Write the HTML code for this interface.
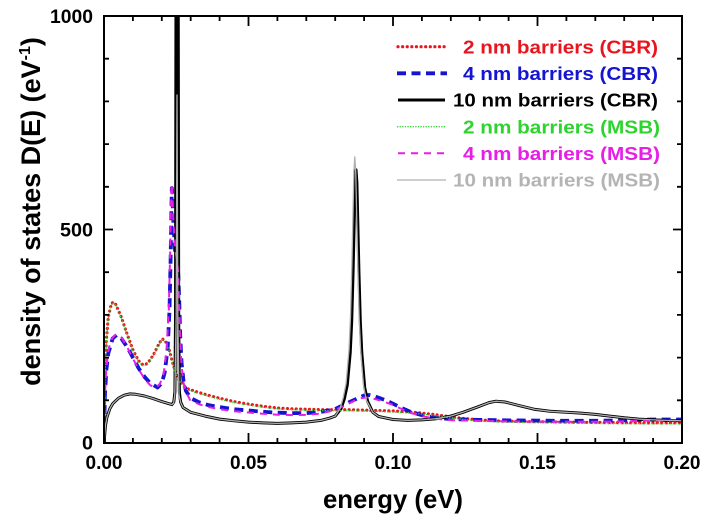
<!DOCTYPE html>
<html><head><meta charset="utf-8"><style>
html,body{margin:0;padding:0;background:#fff;}
svg{display:block;}
text{font-family:"Liberation Sans",Arial,sans-serif;font-weight:bold;}
</style></head><body>
<svg width="704" height="519" viewBox="0 0 704 519" xmlns="http://www.w3.org/2000/svg">
<defs><clipPath id="c"><rect x="104" y="16" width="578" height="427"/></clipPath></defs>
<rect width="704" height="519" fill="#fff"/>
<g clip-path="url(#c)" fill="none" stroke-linejoin="round">
<!-- red dotted CBR 2nm -->
<polyline stroke="#e8141e" stroke-width="3.2" stroke-linecap="round" stroke-dasharray="0.01 4.4" points="104,443 104.9,379 106.3,340.5 108.3,317 111.2,304.2 113.2,302.1 115.6,304.2 121.3,317 127.1,334.1 132.9,349.9 138.7,361 143,364.9 147.4,363.6 153.1,355.5 158.9,343.9 162.2,338.8 165.6,341.4 169,349.1 172.4,361.9 175.6,372.5 179.1,379.8 182.9,384.9 187.8,388.8 196.5,391.8 208,395.2 219.6,398.2 234.1,401.6 248.5,404.1 263,406.3 277.4,408 291.9,408.8 306.3,409.3 320.8,409.7 349.7,409.7 364.1,410.1 378.6,410.5 393,411 407.5,411.8 421.9,413.1 436.4,414.8 450.8,417 465.3,418.7 479.7,419.9 494.2,420.8 508.6,421.2 537.5,421.7 566.4,422.1 595.3,422.5 653.1,422.9 682,422.9"/>
<!-- blue dashed CBR 4nm -->
<polyline stroke="#1414d2" stroke-width="3.8" stroke-dasharray="9 5.5" points="104,443 104.9,396 106.3,370.4 108.3,353.3 112.7,338.4 116.7,335 121.3,338.4 127.1,346.9 132.9,357.6 138.7,368.3 144.5,376.8 150.2,383.2 157.5,387.5 161.8,383.2 164.7,372.5 167.6,349.1 169.5,310 170.6,260 171.3,215 171.8,188 172.5,195 173.5,225 175,250 177,262 178.3,275 179.2,300 180.2,335 181.5,362 183.5,381 186,391 190.7,398.2 199.4,402.4 208,405 219.6,407.1 234.1,409.3 248.5,410.5 263,411.8 277.4,412.7 291.9,413.1 306.3,413.1 320.8,412 335.2,409 349.7,402 358.3,398 364,395.5 369,395 375,396.5 385,400 393,403.7 401.7,408 410.3,411.8 421.9,415.2 436.4,417.8 450.8,419.1 465.3,419.5 479.7,419.9 508.6,420.4 566.4,420.8 595.3,420.8 624.2,420.4 653.1,419.5 682,419.5"/>
<!-- black CBR 10nm -->
<polyline stroke="#000" stroke-width="3" points="104,443 105.4,425.9 106.9,417.4 109.8,408.8 112.7,403.7 118.5,398.2 124.2,395.2 130,393.9 135.8,394.3 144.5,396 153.1,398.6 161.8,401.6 167.6,403.3 171.9,404.6 173.8,402 174.9,392 175.5,320 176,-27 178.2,-27 178.7,320 179.4,392 180.6,402 183,407.5 190.7,412.3 205.2,416.1 219.6,419.1 234.1,420.8 248.5,422.1 263,422.9 277.4,423.4 291.9,422.9 306.3,422.1 320.8,420.4 329.4,418.2 335.2,416.1 341,408.8 344.4,398.6 347.3,384.9 350.2,352.9 351.7,321.3 353.1,270.9 354.3,218 355.1,182.5 356,169.7 356.9,182.5 357.7,218 358.9,270.9 360.3,321.3 361.8,352.9 364.7,387.5 367.6,401.2 372.8,412.3 378.6,416.5 393,419.5 407.5,420.4 421.9,419.9 436.4,418.7 450.8,416.1 463,412.3 477,407.2 489,402.6 496,401.2 505,402 520,405.8 535,409.4 550,411.3 566.4,412.3 580.9,413.1 595.3,414.4 609.8,416.1 624.2,417.8 638.7,419.1 653.1,419.9 667.6,420.4 682,420.8"/>
<!-- green dotted MSB 2nm -->
<polyline stroke="#3ad23a" stroke-width="1.3" stroke-dasharray="1.3 1.3" points="104,443 104.9,380 106.3,341.5 108.3,318 111.2,305.2 113.2,303.1 115.6,305.2 121.3,318 127.1,335.1 132.9,350.9 138.7,362 143,365.9 147.4,364.6 153.1,356.5 158.9,344.9 162.2,339.8 165.6,342.4 169,350.1 172.4,362.9 175.6,373.5 179.1,380.8 182.9,385.9 187.8,389.8 196.5,392.8 208,396.2 219.6,399.2 234.1,402.6 248.5,405.1 263,407.3 277.4,409 291.9,409.8 306.3,410.3 320.8,410.7 349.7,410.7 364.1,411.1 378.6,411.5 393,412 407.5,412.8 421.9,414.1 436.4,415.8 450.8,418 465.3,419.7 479.7,420.9 494.2,421.8 508.6,422.2 537.5,422.7 566.4,423.1 595.3,423.5 653.1,423.9 682,423.9"/>
<!-- magenta dashed MSB 4nm -->
<polyline stroke="#e61ee6" stroke-width="2" stroke-dasharray="7 6" points="104,443 104.9,394 106.3,368.4 108.3,351.3 110.5,341 114,336 116.7,334 121.3,337.4 127.1,346.9 132.9,358.6 138.7,369.3 144.5,378.8 150.2,385.2 155.5,388 159.8,384.2 163.7,373.5 166.6,350.1 168.8,310 170.1,255 170.9,210 171.5,184 172.3,192 173.4,222 175,248 177,260 178.2,273 179,298 180,333 181.3,362 183.3,382 186,392 190.2,400.2 199.4,404.4 208,407 219.6,409.1 234.1,411.3 248.5,412.5 263,413.8 277.4,414.7 291.9,415.1 306.3,414.9 320.8,413.5 335.2,410 349.7,403 356,400 362,398 367,397.5 373,398.5 382,401 393,405 401.7,409 410.3,412.8 421.9,416.2 436.4,418.8 450.8,420.1 465.3,420.5 479.7,420.9 508.6,421.4 566.4,421.8 595.3,421.8 624.2,421.4 653.1,420.5 682,420.5"/>
<!-- gray MSB 10nm -->
<polyline stroke="#b0b0b0" stroke-width="1.3" points="104,443 105.4,425.9 106.9,417.4 109.8,408.8 112.7,403.7 118.5,398.2 124.2,395.2 130,393.9 135.8,394.3 144.5,396 153.1,398.6 161.8,401.6 167.6,403.3 171.9,404.6 173.6,403 174.8,395 176.2,314.9 177,95 177.8,314.9 179,395 180.6,402.4 183,407.5 190.7,412.3 205.2,416.1 219.6,419.1 234.1,420.8 248.5,422.1 263,422.9 277.4,423.4 291.9,422.9 306.3,422.1 320.8,420.4 329.4,418.2 335.2,416.1 340,408.8 343.2,397.7 346.1,383.2 349,349.9 350.5,316.6 351.9,263.7 353.1,208.2 353.9,171 354.8,156.9 355.7,171 356.5,208.2 357.7,263.7 359.1,316.6 360.6,349.9 363.5,385.8 366.4,400.3 372.8,412.3 378.6,416.5 393,419.5 407.5,420.4 421.9,419.9 436.4,418.7 450.8,416.1 463,412.3 477,407.2 489,402.6 496,401.2 505,402 520,405.8 535,409.4 550,411.3 566.4,412.3 580.9,413.1 595.3,414.4 609.8,416.1 624.2,417.8 638.7,419.1 653.1,419.9 667.6,420.4 682,420.8"/>
</g>
<!-- frame -->
<rect x="104" y="16" width="578" height="427" fill="none" stroke="#000" stroke-width="2"/>
<!-- ticks -->
<g stroke="#000" stroke-width="1.8">
<path d="M104,443v-10M248.5,443v-10M393,443v-10M537.5,443v-10M682,443v-10
M132.9,443v-5M161.8,443v-5M190.7,443v-5M219.6,443v-5M277.4,443v-5M306.3,443v-5M335.2,443v-5M364.1,443v-5M421.9,443v-5M450.8,443v-5M479.7,443v-5M508.6,443v-5M566.4,443v-5M595.3,443v-5M624.2,443v-5M653.1,443v-5
M248.5,16v10M393,16v10M537.5,16v10
M132.9,16v5M161.8,16v5M190.7,16v5M219.6,16v5M277.4,16v5M306.3,16v5M335.2,16v5M364.1,16v5M421.9,16v5M450.8,16v5M479.7,16v5M508.6,16v5M566.4,16v5M595.3,16v5M624.2,16v5M653.1,16v5
M104,229.5h9M104,400.3h5M104,357.6h5M104,314.9h5M104,272.2h5M104,186.8h5M104,144.1h5M104,101.4h5M104,58.7h5
M682,229.5h-9M682,400.3h-5M682,357.6h-5M682,314.9h-5M682,272.2h-5M682,186.8h-5M682,144.1h-5M682,101.4h-5M682,58.7h-5"/>
</g>
<!-- tick labels -->
<g font-size="19" fill="#000">
<text x="104" y="469" text-anchor="middle" textLength="37" lengthAdjust="spacingAndGlyphs">0.00</text>
<text x="248.5" y="469" text-anchor="middle" textLength="37" lengthAdjust="spacingAndGlyphs">0.05</text>
<text x="393" y="469" text-anchor="middle" textLength="37" lengthAdjust="spacingAndGlyphs">0.10</text>
<text x="537.5" y="469" text-anchor="middle" textLength="37" lengthAdjust="spacingAndGlyphs">0.15</text>
<text x="682" y="469" text-anchor="middle" textLength="37" lengthAdjust="spacingAndGlyphs">0.20</text>
<text x="93" y="23" text-anchor="end" textLength="43" lengthAdjust="spacingAndGlyphs">1000</text>
<text x="93" y="236.5" text-anchor="end" textLength="33" lengthAdjust="spacingAndGlyphs">500</text>
<text x="93" y="449.5" text-anchor="end" textLength="11" lengthAdjust="spacingAndGlyphs">0</text>
</g>
<!-- axis titles -->
<text x="393" y="508" text-anchor="middle" font-size="26" textLength="140" lengthAdjust="spacingAndGlyphs">energy (eV)</text>
<text transform="translate(40,211.5) rotate(-90)" text-anchor="middle" font-size="27">density of states D(E) (eV<tspan dy="-10" font-size="16">-1</tspan><tspan dy="10">)</tspan></text>
<!-- legend -->
<g fill="none" stroke-linejoin="round">
<line x1="398" y1="46.7" x2="445" y2="46.7" stroke="#e8141e" stroke-width="3.2" stroke-linecap="round" stroke-dasharray="0.01 4.6"/>
<line x1="397" y1="73.3" x2="447" y2="73.3" stroke="#1414d2" stroke-width="3.8" stroke-dasharray="9 5.5"/>
<line x1="398" y1="100" x2="445" y2="100" stroke="#000" stroke-width="3"/>
<line x1="397" y1="126.7" x2="446" y2="126.7" stroke="#3ad23a" stroke-width="1.3" stroke-dasharray="1.3 1.3"/>
<line x1="398" y1="153.3" x2="446" y2="153.3" stroke="#e61ee6" stroke-width="2" stroke-dasharray="7 6"/>
<line x1="397" y1="180" x2="446" y2="180" stroke="#b0b0b0" stroke-width="1.3"/>
</g>
<g font-size="18" text-anchor="end">
<text x="658" y="53.3" fill="#e8141e" textLength="195" lengthAdjust="spacingAndGlyphs">2 nm barriers (CBR)</text>
<text x="658" y="80" fill="#1414d2" textLength="195" lengthAdjust="spacingAndGlyphs">4 nm barriers (CBR)</text>
<text x="658" y="106.6" fill="#000" textLength="205" lengthAdjust="spacingAndGlyphs">10 nm barriers (CBR)</text>
<text x="660" y="133.3" fill="#2ed42e" textLength="197" lengthAdjust="spacingAndGlyphs">2 nm barriers (MSB)</text>
<text x="660" y="160" fill="#e61ee6" textLength="197" lengthAdjust="spacingAndGlyphs">4 nm barriers (MSB)</text>
<text x="660" y="186.6" fill="#b4b4b4" textLength="207" lengthAdjust="spacingAndGlyphs">10 nm barriers (MSB)</text>
</g>
</svg>
</body></html>
